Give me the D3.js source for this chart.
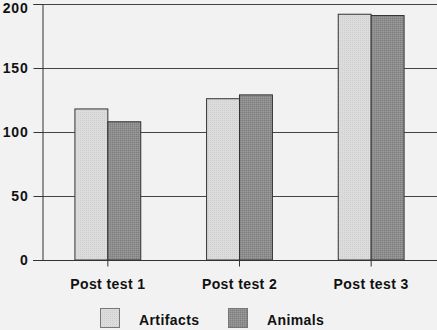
<!DOCTYPE html>
<html>
<head>
<meta charset="utf-8">
<script src="https://cdn.jsdelivr.net/npm/d3@7"></script>
<style>
  html, body { margin: 0; padding: 0; background: #f2f2f2; }
  svg { display: block; }
  text { font-family: "Liberation Sans", Arial, sans-serif; font-weight: bold; fill: #111; }
</style>
</head>
<body>
<svg id="chart" width="437" height="330"></svg>
<script>
const categories = ["Post test 1", "Post test 2", "Post test 3"];
const seriesNames = ["Artifacts", "Animals"];
const artifacts = [118, 126, 192];
const animals = [108, 129, 191];
const yTicks = [0, 50, 100, 150, 200];
const colors = ["#dcdcdc", "#8e8e8e"];

const W = 437, H = 330;
const margin = { left: 42, right: 0, top: 4, bottom: 70 };
const svg = d3.select("#chart");

svg.append("rect").attr("width", W).attr("height", H).attr("fill", "#f2f2f2");

const defs = svg.append("defs");
const p1 = defs.append("pattern").attr("id", "pat0").attr("width", 2).attr("height", 2).attr("patternUnits", "userSpaceOnUse");
p1.append("rect").attr("width", 2).attr("height", 2).attr("fill", colors[0]);
p1.append("rect").attr("width", 1).attr("height", 1).attr("fill", "#cfcfcf");
const p2 = defs.append("pattern").attr("id", "pat1").attr("width", 2).attr("height", 2).attr("patternUnits", "userSpaceOnUse");
p2.append("rect").attr("width", 2).attr("height", 2).attr("fill", colors[1]);
p2.append("rect").attr("width", 1).attr("height", 1).attr("fill", "#7e7e7e");
p2.append("rect").attr("x", 1).attr("y", 1).attr("width", 1).attr("height", 1).attr("fill", "#9a9a9a");

const x0 = d3.scaleBand().domain(categories).range([margin.left, W - margin.right]).paddingInner(0).paddingOuter(0);
const x1 = d3.scaleBand().domain(seriesNames).range([0, x0.bandwidth()]).paddingInner(0).paddingOuter(1);
const y = d3.scaleLinear().domain([0, 200]).range([260, 4]);

// gridlines
svg.append("g").selectAll("line").data(yTicks.filter(d => d > 0)).join("line")
  .attr("x1", margin.left).attr("x2", W)
  .attr("y1", d => Math.round(y(d)) + 0.5).attr("y2", d => Math.round(y(d)) + 0.5)
  .attr("stroke", "#444").attr("stroke-width", 1);

// bars
const seriesData = [artifacts, animals];
const g = svg.append("g");
categories.forEach((c, i) => {
  seriesNames.forEach((s, j) => {
    g.append("rect")
      .attr("x", x0(c) + x1(s))
      .attr("y", y(seriesData[j][i]))
      .attr("width", x1.bandwidth())
      .attr("height", y(0) - y(seriesData[j][i]))
      .attr("fill", `url(#pat${j})`)
      .attr("stroke", "#333").attr("stroke-width", 1);
  });
});

// y axis
const yAxis = d3.axisLeft(y).tickValues(yTicks).tickSize(9).tickPadding(5);
const ya = svg.append("g").attr("transform", `translate(${margin.left + 0.5},0)`).call(yAxis);
ya.select(".domain").attr("stroke", "#333");
ya.selectAll(".tick line").attr("stroke", "#333");
ya.selectAll(".tick text").style("font-size", "14px").style("letter-spacing", "0.8px")
  .style("font-family", "'Liberation Sans', Arial, sans-serif").style("font-weight", "bold").attr("fill", "#111")
  .attr("dy", d => d === 200 ? "0.62em" : "0.32em");

// x axis
const xAxis = d3.axisBottom(x0).tickSize(6).tickPadding(13).tickSizeOuter(0);
const xa = svg.append("g").attr("transform", `translate(0,${y(0) + 0.5})`).call(xAxis);
xa.select(".domain").attr("stroke", "#333").attr("d", `M${margin.left - 9},0H${W}`);
xa.selectAll(".tick line").attr("stroke", "#333");
xa.selectAll(".tick text").style("font-size", "14px").style("letter-spacing", "0.4px")
  .style("font-family", "'Liberation Sans', Arial, sans-serif").style("font-weight", "bold").attr("fill", "#111");

// legend
const legendX = [100, 228];
const lg = svg.append("g");
seriesNames.forEach((s, j) => {
  lg.append("rect").attr("x", legendX[j] + 0.5).attr("y", 308.5).attr("width", 19).attr("height", 19)
    .attr("fill", `url(#pat${j})`).attr("stroke", "#777");
  lg.append("text").attr("x", legendX[j] + 39).attr("y", 325)
    .style("font-size", "14px").style("letter-spacing", "0.4px").text(s);
});
</script>
</body>
</html>
